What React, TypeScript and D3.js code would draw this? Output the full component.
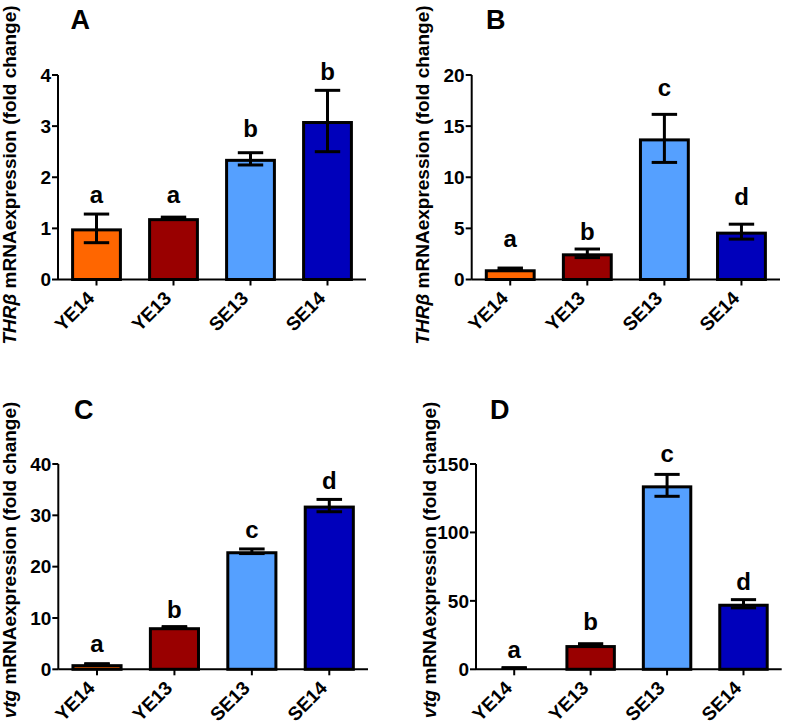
import React from "react";
import * as d3 from "d3";

const categories = ["YE14", "YE13", "SE13", "SE14"];
const barColors = ["#ff6600", "#990000", "#55a0ff", "#0000bb"];

// Panel A: THRβ (fold change)
const meanA = [1.0, 1.2, 2.36, 3.1];
const errA = [0.28, 0.02, 0.12, 0.6];
const lettersA = ["a", "a", "b", "b"];
const letterLevelA = [1.5, 1.5, 2.79, 3.9];
const ticksA = [0, 1, 2, 3, 4];

// Panel B: THRβ (fold change)
const meanB = [1.0, 2.56, 13.8, 4.68];
const errB = [0.12, 0.42, 2.35, 0.73];
const lettersB = ["a", "b", "c", "d"];
const letterLevelB = [3.2, 3.87, 17.9, 7.3];
const ticksB = [0, 5, 10, 15, 20];

// Panel C: vtg (fold change)
const meanC = [1.0, 8.2, 23.0, 31.9];
const errC = [0.1, 0.12, 0.45, 1.2];
const lettersC = ["a", "b", "c", "d"];
const letterLevelC = [3.4, 9.9, 25.5, 35.1];
const ticksC = [0, 10, 20, 30, 40];

// Panel D: vtg (fold change)
const meanD = [1.0, 17.7, 134.4, 47.9];
const errD = [0.2, 1.0, 8.0, 3.0];
const lettersD = ["a", "b", "c", "d"];
const letterLevelD = [8.0, 28.7, 151.6, 57.9];
const ticksD = [0, 50, 100, 150];

type PanelProps = {
  tag: string;
  gene: string;
  mean: number[];
  err: number[];
  letters: string[];
  letterLevel: number[];
  ticks: number[];
  axisX: number;
  axisEnd: number;
  top: number;
  zero: number;
  tagX: number;
  tagY: number;
  labelX: number;
  labelY: number;
};

const FONT = "'Liberation Sans', Arial, Helvetica, sans-serif";

function Panel(p: PanelProps) {
  const yMax = p.ticks[p.ticks.length - 1];
  const y = d3.scaleLinear().domain([0, yMax]).range([p.zero, p.top]);
  const x = d3
    .scaleBand<string>()
    .domain(categories)
    .range([p.axisX, p.axisEnd])
    .paddingInner(0.34)
    .paddingOuter(0.17);
  const bw = x.bandwidth();
  const sw = 3;
  return (
    <g fontFamily={FONT} fontWeight="bold">
      <text x={p.tagX} y={p.tagY} fontSize={27}>
        {p.tag}
      </text>
      <text
        transform={`translate(${p.labelX},${p.labelY}) rotate(-90)`}
        textAnchor="middle"
        fontSize={19}
      >
        <tspan fontStyle="italic">{p.gene}</tspan>
        <tspan> mRNAexpression (fold change)</tspan>
      </text>
      {categories.map((c, i) => {
        const x0 = x(c)!;
        const cx = x0 + bw / 2;
        const yt = y(p.mean[i]);
        const yu = y(p.mean[i] + p.err[i]);
        const yl = y(Math.max(0, p.mean[i] - p.err[i]));
        const cap = bw * 0.25;
        return (
          <g key={c}>
            <rect
              x={x0 + sw / 2}
              y={yt + sw / 2}
              width={bw - sw}
              height={Math.max(0, p.zero - yt - sw / 2)}
              fill={barColors[i]}
              stroke="#000"
              strokeWidth={sw}
            />
            <line x1={cx} x2={cx} y1={yu} y2={yl} stroke="#000" strokeWidth={3} />
            <line x1={cx - cap} x2={cx + cap} y1={yu} y2={yu} stroke="#000" strokeWidth={3} />
            <line x1={cx - cap} x2={cx + cap} y1={yl} y2={yl} stroke="#000" strokeWidth={3} />
            <text x={cx} y={y(p.letterLevel[i])} textAnchor="middle" fontSize={24}>
              {p.letters[i]}
            </text>
            <line x1={cx} x2={cx} y1={p.zero} y2={p.zero + 6} stroke="#000" strokeWidth={2} />
            <text
              transform={`translate(${cx - 1},${p.zero + 20}) rotate(-45)`}
              textAnchor="end"
              fontSize={19}
            >
              {c}
            </text>
          </g>
        );
      })}
      <line x1={p.axisX} x2={p.axisX} y1={p.top} y2={p.zero} stroke="#000" strokeWidth={2} />
      <line x1={p.axisX} x2={p.axisEnd} y1={p.zero} y2={p.zero} stroke="#000" strokeWidth={2} />
      {p.ticks.map((t) => (
        <g key={t}>
          <line x1={p.axisX - 6} x2={p.axisX} y1={y(t)} y2={y(t)} stroke="#000" strokeWidth={2} />
          <text x={p.axisX - 7} y={y(t)} dy="0.36em" textAnchor="end" fontSize={19}>
            {t}
          </text>
        </g>
      ))}
    </g>
  );
}

export default function App() {
  return (
    <svg
      width={787}
      height={727}
      style={{ position: "absolute", left: 0, top: 0, background: "#fff" }}
    >
      <rect width={787} height={727} fill="#fff" />
      <Panel
        tag="A" gene="THRβ" mean={meanA} err={errA} letters={lettersA}
        letterLevel={letterLevelA} ticks={ticksA}
        axisX={58} axisEnd={366} top={75} zero={279.5}
        tagX={70.5} tagY={29.3} labelX={15.5} labelY={175}
      />
      <Panel
        tag="B" gene="THRβ" mean={meanB} err={errB} letters={lettersB}
        letterLevel={letterLevelB} ticks={ticksB}
        axisX={471.7} axisEnd={780} top={75} zero={279.5}
        tagX={486} tagY={29.3} labelX={429} labelY={175}
      />
      <Panel
        tag="C" gene="vtg" mean={meanC} err={errC} letters={lettersC}
        letterLevel={letterLevelC} ticks={ticksC}
        axisX={58.3} axisEnd={368} top={464} zero={669.3}
        tagX={74} tagY={419.3} labelX={15.5} labelY={560}
      />
      <Panel
        tag="D" gene="vtg" mean={meanD} err={errD} letters={lettersD}
        letterLevel={letterLevelD} ticks={ticksD}
        axisX={476} axisEnd={781.7} top={464} zero={669.3}
        tagX={490} tagY={419.3} labelX={436} labelY={560}
      />
    </svg>
  );
}
